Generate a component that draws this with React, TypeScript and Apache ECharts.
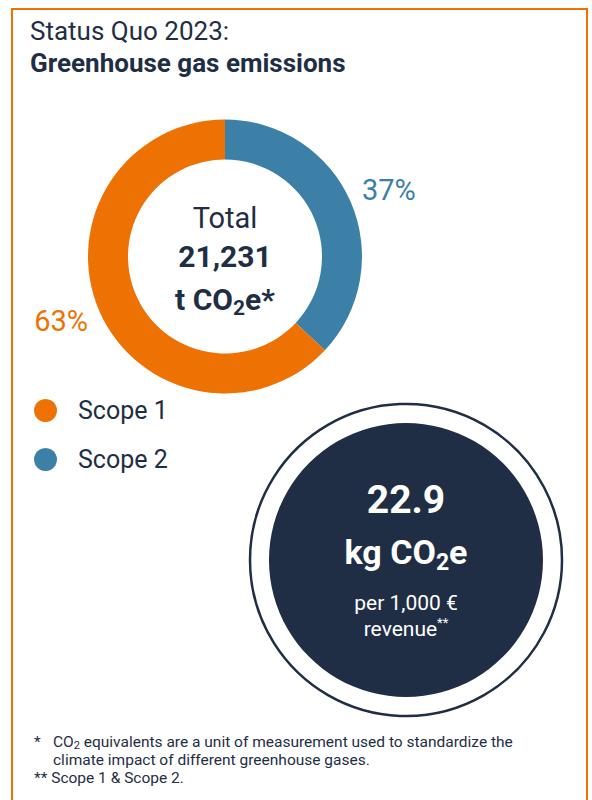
import React, { useEffect, useRef } from "react";
import * as echarts from "echarts";

// ---- data ----
const categories = ["Scope 1", "Scope 2"];
const shares = [63, 37]; // percent of total emissions
const sliceColors = ["#ee7203", "#3c80a7"];
const titleLines = ["Status Quo 2023:", "Greenhouse gas emissions"];
const totalLabel = "Total";
const totalValue = "21,231";
const intensityValue = "22.9";
const intensityUnitLines = ["per 1,000 €", "revenue"];
const footnotes = [
  "CO2 equivalents are a unit of measurement used to standardize the",
  "climate impact of different greenhouse gases.",
  "Scope 1 & Scope 2.",
];

const NAVY = "#1f2e45";
const ORANGE = "#ee7203";
const FONT = "Roboto, 'Noto Sans', sans-serif";

export default function App() {
  const ref = useRef<HTMLDivElement>(null);

  useEffect(() => {
    if (!ref.current) return;
    const chart = echarts.init(ref.current, undefined, { renderer: "svg" });

    // pie drawn clockwise from 12 o'clock starting with Scope 2
    const pieData = [1, 0].map((i) => ({
      name: categories[i],
      value: shares[i],
      itemStyle: { color: sliceColors[i] },
      label: { color: sliceColors[i] },
    }));

    const cx = 225;
    const cy = 256.5;
    const dcx = 406;
    const dcy = 560;

    chart.setOption({
      animation: false,
      textStyle: { fontFamily: FONT },
      legend: {
        orient: "vertical",
        left: 34,
        top: 398,
        data: categories,
        icon: "circle",
        itemWidth: 23,
        itemHeight: 23,
        itemGap: 24,
        padding: 0,
        selectedMode: false,
        textStyle: {
          fontFamily: FONT,
          fontSize: 25,
          color: NAVY,
          lineHeight: 24,
          padding: [0, 0, 0, 16],
        },
      },
      series: [
        {
          type: "pie",
          center: [cx, cy],
          radius: [97, 137],
          startAngle: 90,
          clockwise: true,
          silent: true,
          data: pieData,
          label: {
            show: true,
            position: "outside",
            formatter: "{c}%",
            fontFamily: FONT,
            fontSize: 29,
            overflow: "none",
            width: 80,
          },
          labelLine: { show: false },
          labelLayout: (params: any) => {
            if (params.dataIndex === 0) {
              return { x: 362, y: 190, align: "left", verticalAlign: "middle" };
            }
            return { x: 88, y: 321, align: "right", verticalAlign: "middle" };
          },
        },
      ],
      graphic: [
        {
          type: "rect",
          shape: { x: 12, y: 9, width: 575, height: 830 },
          style: { fill: "none", stroke: ORANGE, lineWidth: 2 },
        },
        {
          type: "text",
          x: 30,
          y: 31,
          style: {
            text: titleLines[0],
            fontFamily: FONT,
            fontSize: 26,
            fill: NAVY,
            align: "left",
            verticalAlign: "middle",
          },
        },
        {
          type: "text",
          x: 30,
          y: 63,
          style: {
            text: titleLines[1],
            fontFamily: FONT,
            fontSize: 26,
            fontWeight: "bold",
            fill: NAVY,
            align: "left",
            verticalAlign: "middle",
          },
        },
        // donut centre
        {
          type: "text",
          x: cx,
          y: 218,
          style: {
            text: totalLabel,
            fontFamily: FONT,
            fontSize: 29,
            fill: NAVY,
            align: "center",
            verticalAlign: "middle",
          },
        },
        {
          type: "text",
          x: cx,
          y: 256,
          style: {
            text: totalValue,
            fontFamily: FONT,
            fontSize: 30,
            fontWeight: "bold",
            fill: NAVY,
            align: "center",
            verticalAlign: "middle",
          },
        },
        {
          type: "text",
          x: cx,
          y: 299,
          style: {
            text: "{a|t CO}{s|2}{a|e*}",
            fontFamily: FONT,
            align: "center",
            verticalAlign: "middle",
            rich: {
              a: { fontFamily: FONT, fontSize: 30, fontWeight: "bold", fill: NAVY, lineHeight: 30 },
              s: {
                fontFamily: FONT,
                fontSize: 21,
                fontWeight: "bold",
                fill: NAVY,
                lineHeight: 21,
                padding: [18, 0, 0, 0],
              },
            },
          },
        },
        // intensity circle
        {
          type: "circle",
          shape: { cx: dcx, cy: dcy, r: 156 },
          style: { fill: "none", stroke: NAVY, lineWidth: 2.5 },
        },
        {
          type: "circle",
          shape: { cx: dcx, cy: dcy, r: 137 },
          style: { fill: NAVY },
        },
        {
          type: "text",
          x: dcx,
          y: 500,
          style: {
            text: intensityValue,
            fontFamily: FONT,
            fontSize: 39,
            fontWeight: "bold",
            fill: "#ffffff",
            align: "center",
            verticalAlign: "middle",
          },
        },
        {
          type: "text",
          x: dcx,
          y: 552,
          style: {
            text: "{a|kg CO}{s|2}{a|e}",
            align: "center",
            verticalAlign: "middle",
            rich: {
              a: { fontFamily: FONT, fontSize: 34, fontWeight: "bold", fill: "#ffffff", lineHeight: 34 },
              s: {
                fontFamily: FONT,
                fontSize: 23,
                fontWeight: "bold",
                fill: "#ffffff",
                lineHeight: 23,
                padding: [20, 0, 0, 0],
              },
            },
          },
        },
        {
          type: "text",
          x: dcx,
          y: 603,
          style: {
            text: intensityUnitLines[0],
            fontFamily: FONT,
            fontSize: 21,
            fill: "#ffffff",
            align: "center",
            verticalAlign: "middle",
          },
        },
        {
          type: "text",
          x: dcx,
          y: 629,
          style: {
            text: `{a|${intensityUnitLines[1]}}{p|**}`,
            align: "center",
            verticalAlign: "middle",
            rich: {
              a: { fontFamily: FONT, fontSize: 21, fill: "#ffffff", lineHeight: 22 },
              p: { fontFamily: FONT, fontSize: 13, fill: "#ffffff", lineHeight: 13, padding: [0, 0, 13, 0] },
            },
          },
        },
        // footnotes
        {
          type: "text",
          x: 34,
          y: 742,
          style: {
            text: "*",
            fontFamily: FONT,
            fontSize: 15.5,
            fill: NAVY,
            align: "left",
            verticalAlign: "middle",
          },
        },
        {
          type: "text",
          x: 53,
          y: 742,
          style: {
            text: "{a|CO}{s|2}{a|" + footnotes[0].slice(3) + "}",
            align: "left",
            verticalAlign: "middle",
            rich: {
              a: { fontFamily: FONT, fontSize: 15.5, fill: NAVY, lineHeight: 15 },
              s: { fontFamily: FONT, fontSize: 11, fill: NAVY, lineHeight: 10, padding: [7, 0, 0, 0] },
            },
          },
        },
        {
          type: "text",
          x: 53,
          y: 760,
          style: {
            text: footnotes[1],
            fontFamily: FONT,
            fontSize: 15.5,
            lineHeight: 16,
            fill: NAVY,
            align: "left",
            verticalAlign: "middle",
          },
        },
        {
          type: "text",
          x: 34,
          y: 778,
          style: {
            text: "** " + footnotes[2],
            fontFamily: FONT,
            fontSize: 15.5,
            lineHeight: 16,
            fill: NAVY,
            align: "left",
            verticalAlign: "middle",
          },
        },
      ],
    });

    return () => chart.dispose();
  }, []);

  return (
    <div
      ref={ref}
      style={{ position: "absolute", left: 0, top: 0, width: 592, height: 800 }}
    />
  );
}
